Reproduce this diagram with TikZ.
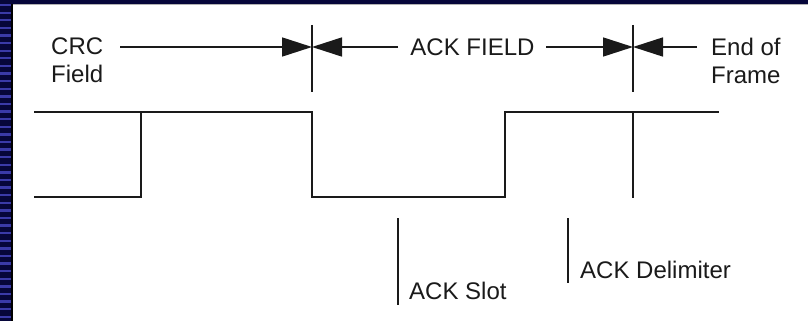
\documentclass[tikz,border=0pt]{standalone}
\usepackage{fontspec}
\setmainfont{Liberation Sans}
\usetikzlibrary{arrows.meta}
\definecolor{navy}{HTML}{06063A}
\definecolor{stripe}{HTML}{3A3AA8}
\definecolor{ink}{HTML}{1A1A1A}
\begin{document}
\begin{tikzpicture}[x=1pt,y=-1pt,
  wire/.style={draw=ink,line width=1.8pt},
  lbl/.style={inner sep=0pt,text=ink,font=\fontsize{24}{28}\selectfont,align=left},
  dimarrow/.style={draw=ink,line width=1.6pt,-{Triangle[length=30pt,width=19pt]}},
]
\useasboundingbox (0,0) rectangle (808,321);
\fill[white] (0,0) rectangle (808,321);
% slide frame: dark top band and striped left band
\fill[navy] (0,0) rectangle (808,4);
\draw[gray!60,line width=1pt] (11,4.5) -- (808,4.5);
\fill[navy] (0,0) rectangle (11,321);
\foreach \k in {0,...,42} \fill[stripe] (0,{4+\k*7.6}) rectangle (11,{6.3+\k*7.6});
\fill[black] (11,4) rectangle (12.5,321);

% field boundary markers
\coordinate (m1t) at (312,25);
\coordinate (m1b) at (312,92);
\coordinate (m2t) at (633,25);
\coordinate (m2b) at (633,92);
\draw[wire] (m1t) -- (m1b);
\draw[wire] (m2t) -- (m2b);

% field labels
\node[lbl,anchor=north west] (crc) at (51,37.5) {CRC\\Field};
\node[lbl,anchor=base] (ack) at (472.5,56) {ACK FIELD};
\node[lbl,anchor=north west] (eof) at (711,37.5) {End of\\Frame};

% dimension arrows
\coordinate (a1) at (120,47);
\coordinate (a2) at (398,47);
\coordinate (a3) at (546,47);
\coordinate (a4) at (697,47);
\draw[dimarrow] (a1) -- (m1t |- a1);
\draw[dimarrow] (a2) -- (m1t |- a2);
\draw[dimarrow] (a3) -- (m2t |- a3);
\draw[dimarrow] (a4) -- (m2t |- a4);

% bit waveform
\draw[wire] (34,112) -- (312,112) -- (312,197) -- (505,197) -- (505,112) -- (719,112);
\draw[wire] (34,197) -- (141,197) -- (141,112);
\draw[wire] (633,112) -- (633,198);

% slot markers
\coordinate (s1t) at (398,218);
\coordinate (s1b) at (398,305);
\coordinate (s2t) at (568,218);
\coordinate (s2b) at (568,283);
\draw[wire] (s1t) -- (s1b);
\draw[wire] (s2t) -- (s2b);
\node[lbl,anchor=base west] (slot) at (409,299) {ACK Slot};
\node[lbl,anchor=base west] (delim) at (580,278) {ACK Delimiter};
\end{tikzpicture}
\end{document}
